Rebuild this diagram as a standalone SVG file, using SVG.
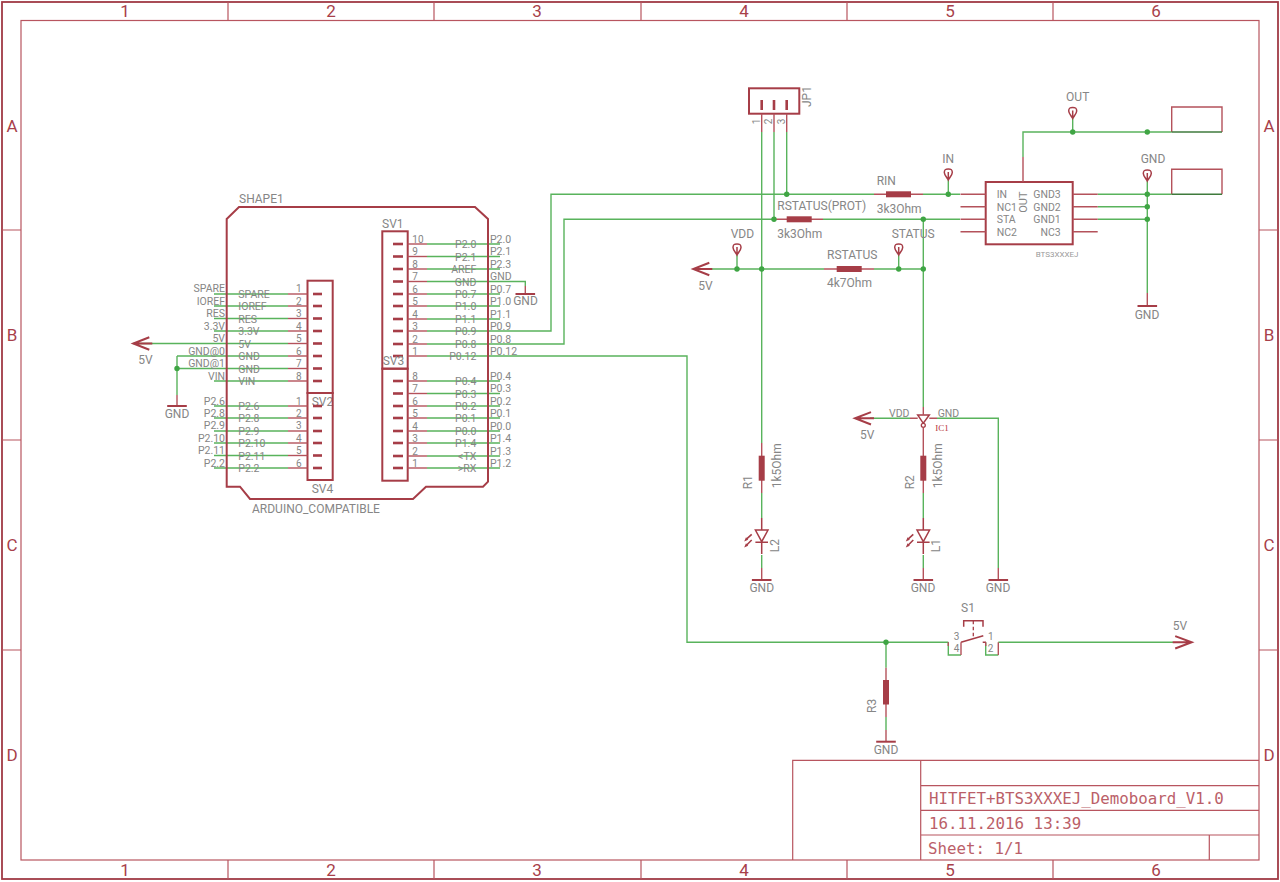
<svg xmlns="http://www.w3.org/2000/svg" xmlns:xlink="http://www.w3.org/1999/xlink" width="1280" height="882" viewBox="0 0 1280 882">
<style>
text{font-family:Roboto,"Open Sans","Liberation Sans",sans-serif;fill:#868686;font-size:10.5px}
.l{font-size:12px}
.n{font-size:10px}
.e{text-anchor:end}
.m{text-anchor:middle}
.f{font-size:17px;fill:#a8404a;text-anchor:middle}
.t{font-family:"DejaVu Sans Mono","Liberation Mono",monospace;font-size:15.8px;fill:#bb5f69}
.frame{fill:none;stroke:#b8555f;stroke-width:1.2}
.outer{fill:none;stroke:#a03a45;stroke-width:1.8}
.w{fill:none;stroke:#59b35c;stroke-width:1.4}
.r{fill:none;stroke:#b4525b;stroke-width:1.4}
.s{fill:none;stroke:#a63d47;stroke-width:2}
.p{fill:none;stroke:#a63d47;stroke-width:2.6}
.b{fill:#a63d47}
.j{fill:#3fa544}
</style>
<defs>
<g id="probe"><path class="s" style="stroke-width:1.5" d="M-4 3.5C-4 0-2 0 0 0S4 0 4 3.5C4 6 1 9 0 11C-1 9-4 6-4 3.5ZM0 3V11"/></g>
<path id="gnd" class="s" d="M-9.8 0H9.8"/>
<g id="arrL"><path class="s" d="M16 -6.2L0 0L16 6.2M0 0L10 0H19"/></g>
<g id="arrR"><path class="s" d="M-16.5 -6.2L0 0L-16.5 6.2M0 0H-19"/></g>
<g id="led">
<path class="s" style="stroke-width:1.5" d="M-6.3 0H6.3L0 11.7ZM-6.3 12.3H6.3M0 -12V0M0 12V24"/>
<path class="s" style="stroke-width:1.6" d="M-10 4.3L-15 8.8M-10 10L-15 15"/>
<path class="b" d="M-17.500 11.500L-13.500 9.800L-15.700 7.200ZM-17.500 17.500L-13.500 15.800L-15.700 13.200Z"/>
</g>
<g id="pinL"><path class="p" d="M313 0H322"/><path class="r" d="M288 0H307.5"/></g>
<g id="pinR"><path class="p" d="M393 0H403"/><path class="r" d="M407.5 0H427"/></g>
</defs>

<g id="frame">
<rect class="outer" x="2" y="2" width="1276" height="877"/>
<rect class="frame" x="21" y="20.500" width="1238" height="839.500"/>
<path class="frame" d="M228 2V20.500M434 2V20.500M641 2V20.500M847 2V20.500M1053 2V20.500M228 860V879M434 860V879M641 860V879M847 860V879M1053 860V879M2 230H21M2 440H21M2 650H21M1259 230H1278M1259 440H1278M1259 650H1278"/>
<text class="f" x="125" y="17">1</text><text class="f" x="331" y="17">2</text><text class="f" x="537" y="17">3</text><text class="f" x="744" y="17">4</text><text class="f" x="950" y="17">5</text><text class="f" x="1156" y="17">6</text>
<text class="f" x="125" y="876">1</text><text class="f" x="331" y="876">2</text><text class="f" x="537" y="876">3</text><text class="f" x="744" y="876">4</text><text class="f" x="950" y="876">5</text><text class="f" x="1156" y="876">6</text>
<text class="f" x="12" y="132">A</text><text class="f" x="12" y="341">B</text><text class="f" x="12" y="551">C</text><text class="f" x="12" y="761">D</text>
<text class="f" x="1269" y="132">A</text><text class="f" x="1269" y="341">B</text><text class="f" x="1269" y="551">C</text><text class="f" x="1269" y="761">D</text>
</g>

<g id="titleblock">
<path class="frame" d="M792.700 860V760.300H1259M920.700 860V760.300M920.700 785.700H1259M920.700 810.300H1259M920.700 835H1259M1209.300 835V860"/>
<text class="t" x="929" y="804">HITFET+BTS3XXXEJ_Demoboard_V1.0</text>
<text class="t" x="929" y="828.700">16.11.2016 13:39</text>
<text class="t" x="928" y="854">Sheet: 1/1</text>
</g>

<g id="connectors">
<path class="w" d="M214 294H288M214 306H288M214 318.500H288M214 331H288M133 343.500H288M177 356H288M177 368.500H288M214 381H288M214 406H288M214 418H288M214 431H288M214 443H288M214 455.500H288M214 468H288"/>
<path class="w" d="M177 356V395"/>
<path class="w" d="M427 244H500M427 256.500H500M427 269H500M427 294H500M427 306H500M427 319H500M427 381H500M427 393.500H500M427 406H500M427 418H500M427 431H500M427 443H500M427 456H500M427 468H500"/>
<path class="w" d="M427 281.500H525.300V286"/>
<path class="w" d="M427 331H551V194.300H874M923 194.300H960"/>
<path class="w" d="M427 344H564V219.300H775M823 219.300H960"/>
<path class="w" d="M427 356H687V642.300H948.300M998.300 642.300H1173"/>
<path class="w" d="M761.700 132V443M774 132V219.300M786.700 132V194.300"/>
<path class="w" d="M709 269H824M874 269H923.300"/>
<path class="w" d="M737 255V269M898.700 255V269M948.300 180V194.300M1072.700 118V132M1147.300 181V293"/>
<path class="w" d="M923.300 219.300V407"/>
<path class="w" d="M1023 157V132H1171.700"/>
<path class="w" d="M1097.700 194.300H1171.700M1097.700 206.700H1147.300M1097.700 219.300H1147.300"/>
<path class="w" d="M870 418.300H910M937 418.300H998.300V568"/>
<path class="w" d="M761.700 493V518M761.700 555V568M923.300 493V518M923.300 555V568"/>
<path class="w" d="M886 642.300V667.700M886 717V730"/>
<path class="w" d="M948.300 642.300V655H961M985.700 642.300V655H998.300"/>
</g>

<g id="shape1">
<path class="s" d="M226.700 219L239 207H475L488 219V481.700L483 486.700H426L413 499H250L240 486.700H226.700Z"/>
<text class="l" x="239" y="202.700">SHAPE1</text>
<text class="l" x="252" y="513">ARDUINO_COMPATIBLE</text>
</g>

<g id="SV2">
<rect class="s" x="307.500" y="280.700" width="25.200" height="112.300"/>
<use href="#pinL" y="294"/><use href="#pinL" y="306"/><use href="#pinL" y="318.500"/><use href="#pinL" y="331"/><use href="#pinL" y="343.500"/><use href="#pinL" y="356"/><use href="#pinL" y="368.500"/><use href="#pinL" y="381"/>
<text class="e" x="225" y="292">SPARE</text><text class="e" x="225" y="304.500">IOREF</text><text class="e" x="225" y="317">RES</text><text class="e" x="225" y="329.500">3.3V</text><text class="e" x="225" y="342">5V</text><text class="e" x="225" y="354.500">GND@0</text><text class="e" x="225" y="367">GND@1</text><text class="e" x="225" y="379.500">VIN</text>
<text x="238.300" y="298">SPARE</text><text x="238.300" y="310">IOREF</text><text x="238.300" y="322.500">RES</text><text x="238.300" y="335">3.3V</text><text x="238.300" y="347.500">5V</text><text x="238.300" y="360">GND</text><text x="238.300" y="372.500">GND</text><text x="238.300" y="385">VIN</text>
<text class="n" x="296" y="292">1</text><text class="n" x="296" y="304.500">2</text><text class="n" x="296" y="317">3</text><text class="n" x="296" y="329.500">4</text><text class="n" x="296" y="342">5</text><text class="n" x="296" y="354.500">6</text><text class="n" x="296" y="367">7</text><text class="n" x="296" y="379.500">8</text>
<text class="l" x="311.700" y="405.700">SV2</text>
</g>

<g id="SV4">
<rect class="s" x="307.500" y="393" width="25.200" height="87"/>
<use href="#pinL" y="406"/><use href="#pinL" y="418"/><use href="#pinL" y="431"/><use href="#pinL" y="443"/><use href="#pinL" y="455.500"/><use href="#pinL" y="468"/>
<text class="e" x="225" y="404.500">P2.6</text><text class="e" x="225" y="416.500">P2.8</text><text class="e" x="225" y="429">P2.9</text><text class="e" x="225" y="441.500">P2.10</text><text class="e" x="225" y="454">P2.11</text><text class="e" x="225" y="466.500">P2.2</text>
<text x="238.300" y="410">P2.6</text><text x="238.300" y="422">P2.8</text><text x="238.300" y="435">P2.9</text><text x="238.300" y="447">P2.10</text><text x="238.300" y="459.500">P2.11</text><text x="238.300" y="472">P2.2</text>
<text class="n" x="296" y="404.500">1</text><text class="n" x="296" y="416.500">2</text><text class="n" x="296" y="429">3</text><text class="n" x="296" y="441.500">4</text><text class="n" x="296" y="454">5</text><text class="n" x="296" y="466.500">6</text>
<text class="l" x="311.700" y="493.300">SV4</text>
</g>

<g id="SV1">
<rect class="s" x="382.300" y="231.300" width="25.400" height="137.400"/>
<use href="#pinR" y="244"/><use href="#pinR" y="256.500"/><use href="#pinR" y="269"/><use href="#pinR" y="281.500"/><use href="#pinR" y="294"/><use href="#pinR" y="306"/><use href="#pinR" y="319"/><use href="#pinR" y="331"/><use href="#pinR" y="344"/><use href="#pinR" y="356"/>
<text class="n" x="412.300" y="242.500">10</text><text class="n" x="412.300" y="255">9</text><text class="n" x="412.300" y="267.500">8</text><text class="n" x="412.300" y="280">7</text><text class="n" x="412.300" y="292.500">6</text><text class="n" x="412.300" y="304.500">5</text><text class="n" x="412.300" y="317.500">4</text><text class="n" x="412.300" y="329.500">3</text><text class="n" x="412.300" y="342.500">2</text><text class="n" x="412.300" y="354.500">1</text>
<text class="e" x="476.300" y="248">P2.0</text><text class="e" x="476.300" y="260.500">P2.1</text><text class="e" x="476.300" y="273">AREF</text><text class="e" x="476.300" y="285.500">GND</text><text class="e" x="476.300" y="298">P0.7</text><text class="e" x="476.300" y="310">P1.0</text><text class="e" x="476.300" y="323">P1.1</text><text class="e" x="476.300" y="335">P0.9</text><text class="e" x="476.300" y="348">P0.8</text><text class="e" x="476.300" y="360">P0.12</text>
<text x="490" y="242.500">P2.0</text><text x="490" y="255">P2.1</text><text x="490" y="267.500">P2.3</text><text x="490" y="280">GND</text><text x="490" y="292.500">P0.7</text><text x="490" y="304.500">P1.0</text><text x="490" y="317.500">P1.1</text><text x="490" y="329.500">P0.9</text><text x="490" y="342.500">P0.8</text><text x="490" y="354.500">P0.12</text>
<text class="l" x="382" y="228.300">SV1</text>
</g>

<g id="SV3">
<rect class="s" x="382.300" y="368.700" width="25.400" height="112"/>
<use href="#pinR" y="381"/><use href="#pinR" y="393.500"/><use href="#pinR" y="406"/><use href="#pinR" y="418"/><use href="#pinR" y="431"/><use href="#pinR" y="443"/><use href="#pinR" y="456"/><use href="#pinR" y="468"/>
<text class="n" x="412.300" y="379.500">8</text><text class="n" x="412.300" y="392">7</text><text class="n" x="412.300" y="404.500">6</text><text class="n" x="412.300" y="416.500">5</text><text class="n" x="412.300" y="429.500">4</text><text class="n" x="412.300" y="441.500">3</text><text class="n" x="412.300" y="454.500">2</text><text class="n" x="412.300" y="466.500">1</text>
<text class="e" x="476.300" y="385">P0.4</text><text class="e" x="476.300" y="397.500">P0.3</text><text class="e" x="476.300" y="410">P0.2</text><text class="e" x="476.300" y="422">P0.1</text><text class="e" x="476.300" y="435">P0.0</text><text class="e" x="476.300" y="447">P1.4</text><text class="e" x="476.300" y="460">&lt;TX</text><text class="e" x="476.300" y="472">&gt;RX</text>
<text x="490" y="379.500">P0.4</text><text x="490" y="392">P0.3</text><text x="490" y="404.500">P0.2</text><text x="490" y="416.500">P0.1</text><text x="490" y="429.500">P0.0</text><text x="490" y="441.500">P1.4</text><text x="490" y="454.500">P1.3</text><text x="490" y="466.500">P1.2</text>
<text class="l" x="382.700" y="365">SV3</text>
</g>

<g id="supply5V-left"><use href="#arrL" x="133.300" y="343.500"/><text class="l" x="138.300" y="364">5V</text></g>
<g id="gnd-left"><path class="r" d="M177 395V406"/><use href="#gnd" x="177" y="406"/><text class="l m" x="177" y="418">GND</text></g>
<g id="gnd-sv1"><path class="r" d="M525.300 286V294"/><use href="#gnd" x="525.300" y="294"/><text class="l m" x="525.500" y="305">GND</text></g>

<g id="JP1">
<rect class="s" x="749" y="88.300" width="50.300" height="25.400"/>
<path class="p" d="M761.700 100V110M774 100V110M786.700 100V110"/>
<path class="r" d="M761.700 113.700V132M774 113.700V132M786.700 113.700V132"/>
<text class="n" transform="translate(759.500 124.300) rotate(-90)">1</text>
<text class="n" transform="translate(772 124.300) rotate(-90)">2</text>
<text class="n" transform="translate(784.500 124.300) rotate(-90)">3</text>
<text class="l" transform="translate(811.300 107) rotate(-90)">JP1</text>
</g>

<g id="RIN">
<path class="r" d="M874 194.300H923"/><rect class="b" x="886" y="191.300" width="25" height="6"/>
<text class="l" x="876.700" y="185">RIN</text><text class="l" x="876.700" y="213">3k3Ohm</text>
</g>
<g id="RSTATUS-PROT">
<path class="r" d="M775 219.300H823"/><rect class="b" x="786.700" y="216.300" width="25" height="6"/>
<text class="l" x="777.300" y="210">RSTATUS(PROT)</text><text class="l" x="777.300" y="238">3k3Ohm</text>
</g>
<g id="RSTATUS">
<path class="r" d="M824 269H874"/><rect class="b" x="836.700" y="266" width="25" height="6"/>
<text class="l" x="827" y="259.300">RSTATUS</text><text class="l" x="827" y="287.300">4k7Ohm</text>
</g>

<g id="supply5V-top"><use href="#arrL" x="693.300" y="269"/><text class="l" x="698.300" y="290">5V</text></g>
<g id="VDD"><use href="#probe" x="737" y="244"/><text class="l" x="730.700" y="238">VDD</text></g>
<g id="STATUS"><use href="#probe" x="898.700" y="244"/><text class="l" x="891.700" y="238">STATUS</text></g>
<g id="IN"><use href="#probe" x="948.300" y="169"/><text class="l" x="942.300" y="163.300">IN</text></g>
<g id="OUT"><use href="#probe" x="1072.700" y="107.500"/><text class="l m" x="1077.700" y="101">OUT</text></g>
<g id="GNDP"><use href="#probe" x="1147.300" y="170"/><text class="l m" x="1153" y="163">GND</text></g>

<g id="BTS3XXXEJ">
<rect class="s" x="985.700" y="182" width="87" height="62.300"/>
<path class="r" d="M960.500 194.300H985.700M960.500 206.700H985.700M960.500 219.300H985.700M960.500 231.700H985.700M1072.700 194.300H1097.700M1072.700 206.700H1097.700M1072.700 219.300H1097.700M1072.700 231.700H1097.700M1023 182V157"/>
<text x="996.700" y="198">IN</text><text x="996.700" y="211">NC1</text><text x="996.700" y="223">STA</text><text x="996.700" y="235.500">NC2</text>
<text class="e" x="1060.700" y="198">GND3</text><text class="e" x="1060.700" y="211">GND2</text><text class="e" x="1060.700" y="223">GND1</text><text class="e" x="1060.700" y="235.500">NC3</text>
<text transform="translate(1026.700 212.700) rotate(-90)" style="font-size:11px">OUT</text>
<text x="1035.700" y="256.700" style="font-size:8px;fill:#9a9a9a">BTS3XXXEJ</text>
</g>

<g id="pad1"><path class="r" d="M1171.700 132V107H1222V132"/><path d="M1171.700 132H1222" fill="none" stroke="#3f7a3c" stroke-width="1.500"/></g>
<g id="pad2"><path class="r" d="M1171.700 194.300V169.300H1222V194.300"/><path d="M1171.700 194.300H1222" fill="none" stroke="#3f7a3c" stroke-width="1.500"/></g>
<g id="gnd-ic"><path class="r" d="M1147.300 293V306"/><use href="#gnd" x="1147.300" y="306"/><text class="l m" x="1147" y="318.500">GND</text></g>

<g id="IC1">
<path class="s" style="stroke-width:1.5" d="M917.700 415H929.300L923.300 423.300Z"/>
<circle cx="923.300" cy="425.300" r="2" fill="#fff" stroke="#a63d47" stroke-width="1.300"/>
<path class="r" d="M910 418.300H917.700M929.300 418.300H937M923.300 407V415"/>
<text x="889" y="416.700">VDD</text><text x="937.700" y="416.700">GND</text>
<text x="935.300" y="430.700" style="font-size:9px;fill:#b8333c;font-family:'Liberation Serif',serif">IC1</text>
</g>
<g id="supply5V-ic"><use href="#arrL" x="855" y="418.300"/><text class="l" x="860" y="439">5V</text></g>
<g id="gnd-ic1"><path class="r" d="M998.300 568V580"/><use href="#gnd" x="998.300" y="580"/><text class="l m" x="998" y="592">GND</text></g>

<g id="R1">
<path class="r" d="M761.700 443V493"/><rect class="b" x="758.700" y="455.700" width="6" height="25"/>
<text class="l" transform="translate(751.700 489.300) rotate(-90)">R1</text>
<text class="l" transform="translate(781 488.300) rotate(-90)">1k5Ohm</text>
</g>
<g id="L2"><use href="#led" x="761.700" y="530"/><text class="l" transform="translate(779 552.300) rotate(-90)">L2</text></g>
<g id="gnd-l2"><path class="r" d="M761.700 568V580"/><use href="#gnd" x="761.700" y="580"/><text class="l m" x="761.700" y="592">GND</text></g>

<g id="R2">
<path class="r" d="M923.300 427.500V493"/><rect class="b" x="920.300" y="455.700" width="6" height="25"/>
<text class="l" transform="translate(913.700 489.300) rotate(-90)">R2</text>
<text class="l" transform="translate(942 488.300) rotate(-90)">1k5Ohm</text>
</g>
<g id="L1"><use href="#led" x="923.300" y="530"/><text class="l" transform="translate(940 552.300) rotate(-90)">L1</text></g>
<g id="gnd-l1"><path class="r" d="M923.300 568V580"/><use href="#gnd" x="923.300" y="580"/><text class="l m" x="923" y="592">GND</text></g>

<g id="S1">
<path class="s" style="stroke-width:1.5" d="M961 642.300L983.300 635.700M982.700 642.300H986M963.700 626.700V620.700H983V626.700"/>
<path class="s" style="stroke-width:1.300" stroke-dasharray="3.500 2.500" d="M973.300 620.700V638"/>
<path class="r" d="M961 642.300V655M948.300 642.300V646M985.700 642.300V646M998.300 642.300V655"/>
<text class="l" x="961" y="611.700">S1</text>
<text class="n" x="953.700" y="640">3</text><text class="n" x="988" y="640">1</text><text class="n" x="953.700" y="652">4</text><text class="n" x="987.700" y="652">2</text>
</g>
<g id="supply5V-right"><use href="#arrR" x="1191.700" y="642.300"/><text class="l" x="1172.700" y="629.700">5V</text></g>

<g id="R3">
<path class="r" d="M886 667.700V717"/><rect class="b" x="883" y="680" width="6" height="24.500"/>
<text class="l" transform="translate(876 713) rotate(-90)">R3</text>
</g>
<g id="gnd-r3"><path class="r" d="M886 730V741.700"/><use href="#gnd" x="886" y="741.700"/><text class="l m" x="886" y="754">GND</text></g>

<g id="junctions">
<circle class="j" cx="177" cy="368.500" r="2.700"/><circle class="j" cx="786.700" cy="194.300" r="2.700"/><circle class="j" cx="774" cy="219.300" r="2.700"/><circle class="j" cx="737" cy="269" r="2.700"/><circle class="j" cx="761.700" cy="269" r="2.700"/><circle class="j" cx="898.700" cy="269" r="2.700"/><circle class="j" cx="923.300" cy="269" r="2.700"/><circle class="j" cx="923.300" cy="219.300" r="2.700"/><circle class="j" cx="948.300" cy="194.300" r="2.700"/><circle class="j" cx="1072.700" cy="132" r="2.700"/><circle class="j" cx="1147.300" cy="132" r="2.700"/><circle class="j" cx="1147.300" cy="194.300" r="2.700"/><circle class="j" cx="1147.300" cy="206.700" r="2.700"/><circle class="j" cx="1147.300" cy="219.300" r="2.700"/><circle class="j" cx="886" cy="642.300" r="2.700"/>
</g>
</svg>
